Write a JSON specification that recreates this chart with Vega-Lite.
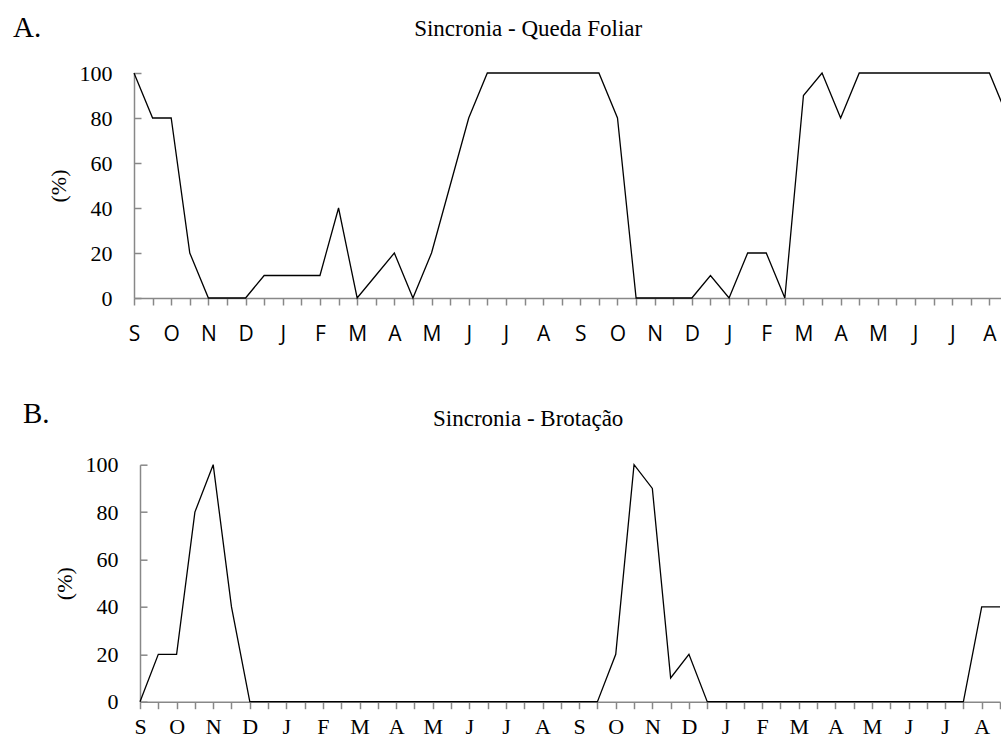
{
  "$schema": "https://vega.github.io/schema/vega-lite/v6.json",
  "padding": {"left": 12, "top": 13, "right": 0, "bottom": 0},
  "background": "white",
  "bounds": "flush",
  "spacing": 166.7,
  "config": {
    "view": {"stroke": null},
    "axis": {
      "grid": false,
      "domainColor": "#888888",
      "tickColor": "#888888",
      "domainWidth": 1.5,
      "tickWidth": 1.5,
      "labelColor": "black",
      "titleColor": "black",
      "labelFont": "Liberation Serif",
      "titleFont": "Liberation Serif",
      "titleFontWeight": "normal"
    }
  },
  "datasets": {
    "queda": [
      {"t": 0, "pct": 100}, {"t": 1, "pct": 80}, {"t": 2, "pct": 80}, {"t": 3, "pct": 20},
      {"t": 4, "pct": 0}, {"t": 5, "pct": 0}, {"t": 6, "pct": 0}, {"t": 7, "pct": 10},
      {"t": 8, "pct": 10}, {"t": 9, "pct": 10}, {"t": 10, "pct": 10}, {"t": 11, "pct": 40},
      {"t": 12, "pct": 0}, {"t": 13, "pct": 10}, {"t": 14, "pct": 20}, {"t": 15, "pct": 0},
      {"t": 16, "pct": 20}, {"t": 17, "pct": 50}, {"t": 18, "pct": 80}, {"t": 19, "pct": 100},
      {"t": 20, "pct": 100}, {"t": 21, "pct": 100}, {"t": 22, "pct": 100}, {"t": 23, "pct": 100},
      {"t": 24, "pct": 100}, {"t": 25, "pct": 100}, {"t": 26, "pct": 80}, {"t": 27, "pct": 0},
      {"t": 28, "pct": 0}, {"t": 29, "pct": 0}, {"t": 30, "pct": 0}, {"t": 31, "pct": 10},
      {"t": 32, "pct": 0}, {"t": 33, "pct": 20}, {"t": 34, "pct": 20}, {"t": 35, "pct": 0},
      {"t": 36, "pct": 90}, {"t": 37, "pct": 100}, {"t": 38, "pct": 80}, {"t": 39, "pct": 100},
      {"t": 40, "pct": 100}, {"t": 41, "pct": 100}, {"t": 42, "pct": 100}, {"t": 43, "pct": 100},
      {"t": 44, "pct": 100}, {"t": 45, "pct": 100}, {"t": 46, "pct": 100}, {"t": 47, "pct": 80}
    ],
    "brotacao": [
      {"t": 0, "pct": 0}, {"t": 1, "pct": 20}, {"t": 2, "pct": 20}, {"t": 3, "pct": 80},
      {"t": 4, "pct": 100}, {"t": 5, "pct": 40}, {"t": 6, "pct": 0}, {"t": 7, "pct": 0},
      {"t": 8, "pct": 0}, {"t": 9, "pct": 0}, {"t": 10, "pct": 0}, {"t": 11, "pct": 0},
      {"t": 12, "pct": 0}, {"t": 13, "pct": 0}, {"t": 14, "pct": 0}, {"t": 15, "pct": 0},
      {"t": 16, "pct": 0}, {"t": 17, "pct": 0}, {"t": 18, "pct": 0}, {"t": 19, "pct": 0},
      {"t": 20, "pct": 0}, {"t": 21, "pct": 0}, {"t": 22, "pct": 0}, {"t": 23, "pct": 0},
      {"t": 24, "pct": 0}, {"t": 25, "pct": 0}, {"t": 26, "pct": 20}, {"t": 27, "pct": 100},
      {"t": 28, "pct": 90}, {"t": 29, "pct": 10}, {"t": 30, "pct": 20}, {"t": 31, "pct": 0},
      {"t": 32, "pct": 0}, {"t": 33, "pct": 0}, {"t": 34, "pct": 0}, {"t": 35, "pct": 0},
      {"t": 36, "pct": 0}, {"t": 37, "pct": 0}, {"t": 38, "pct": 0}, {"t": 39, "pct": 0},
      {"t": 40, "pct": 0}, {"t": 41, "pct": 0}, {"t": 42, "pct": 0}, {"t": 43, "pct": 0},
      {"t": 44, "pct": 0}, {"t": 45, "pct": 0}, {"t": 46, "pct": 40}, {"t": 47, "pct": 40}
    ]
  },
  "vconcat": [
    {
      "width": 874,
      "height": 225,
      "data": {"name": "queda"},
      "layer": [
        {
          "mark": {"type": "line", "color": "black", "strokeWidth": 1.3},
          "encoding": {
            "x": {
              "field": "t", "type": "quantitative",
              "scale": {"domain": [0, 47], "nice": false, "zero": false},
              "axis": {
                "values": [0,1,2,3,4,5,6,7,8,9,10,11,12,13,14,15,16,17,18,19,20,21,22,23,24,25,26,27,28,29,30,31,32,33,34,35,36,37,38,39,40,41,42,43,44,45,46,47],
                "tickSize": 7,
                "labelExpr": "datum.value % 2 == 0 ? ['S','O','N','D','J','F','M','A','M','J','J','A'][(datum.value/2)%12] : ''",
                "labelFont": "Open Sans",
                "labelFontSize": 21,
                "labelBaseline": "alphabetic",
                "labelPadding": 35,
                "labelAlign": "center",
                "labelFlush": false,
                "labelOverlap": false,
                "title": null
              }
            },
            "y": {
              "field": "pct", "type": "quantitative",
              "scale": {"domain": [0, 100], "nice": false},
              "axis": {
                "values": [0, 20, 40, 60, 80, 100],
                "tickSize": -7,
                "labelPadding": 29,
                "labelFontSize": 22,
                "title": "(%)",
                "titleFontSize": 22,
                "titleAngle": -90,
                "titleX": -75.3,
                "titleY": 112.5,
                "titleBaseline": "middle",
                "titleAlign": "center"
              }
            }
          }
        },
        {
          "mark": {"type": "line", "strokeOpacity": 0},
          "encoding": {
            "x": {
              "field": "t", "type": "quantitative",
              "axis": {
                "orient": "top", "domain": false, "ticks": false, "labels": false,
                "title": "Sincronia - Queda Foliar",
                "titleFontSize": 23,
                "titleX": 393.7, "titleY": -37.6,
                "titleBaseline": "alphabetic", "titleAlign": "center"
              }
            },
            "y": {
              "field": "pct", "type": "quantitative",
              "axis": {
                "orient": "left", "domain": false, "ticks": false, "labels": false,
                "title": "A.",
                "titleFontSize": 29,
                "titleAngle": 0,
                "titleX": -121.5, "titleY": -36.6,
                "titleAlign": "left", "titleBaseline": "alphabetic"
              }
            }
          }
        }
      ],
      "resolve": {"axis": {"x": "independent", "y": "independent"}}
    },
    {
      "width": 866,
      "height": 237,
      "data": {"name": "brotacao"},
      "layer": [
        {
          "mark": {"type": "line", "color": "black", "strokeWidth": 1.3},
          "encoding": {
            "x": {
              "field": "t", "type": "quantitative",
              "scale": {"domain": [0, 47], "range": [6, 866], "nice": false, "zero": false},
              "axis": {
                "values": [0,1,2,3,4,5,6,7,8,9,10,11,12,13,14,15,16,17,18,19,20,21,22,23,24,25,26,27,28,29,30,31,32,33,34,35,36,37,38,39,40,41,42,43,44,45,46,47],
                "tickSize": 7,
                "labelExpr": "datum.value % 2 == 0 ? ['S','O','N','D','J','F','M','A','M','J','J','A'][(datum.value/2)%12] : ''",
                "labelFontSize": 22,
                "labelBaseline": "alphabetic",
                "labelPadding": 25,
                "labelAlign": "center",
                "labelFlush": false,
                "labelOverlap": false,
                "title": null
              }
            },
            "y": {
              "field": "pct", "type": "quantitative",
              "scale": {"domain": [0, 100], "nice": false},
              "axis": {
                "offset": -6,
                "values": [0, 20, 40, 60, 80, 100],
                "tickSize": -7,
                "labelPadding": 29,
                "labelFontSize": 22,
                "title": "(%)",
                "titleFontSize": 22,
                "titleAngle": -90,
                "titleX": -75.3,
                "titleY": 118.5,
                "titleBaseline": "middle",
                "titleAlign": "center"
              }
            }
          }
        },
        {
          "mark": {"type": "line", "strokeOpacity": 0},
          "encoding": {
            "x": {
              "field": "t", "type": "quantitative",
              "axis": {
                "orient": "top", "domain": false, "ticks": false, "labels": false,
                "title": "Sincronia - Brotação",
                "titleFontSize": 23,
                "titleX": 393.7, "titleY": -39,
                "titleBaseline": "alphabetic", "titleAlign": "center"
              }
            },
            "y": {
              "field": "pct", "type": "quantitative",
              "axis": {
                "orient": "left", "domain": false, "ticks": false, "labels": false,
                "title": "B.",
                "titleFontSize": 29,
                "titleAngle": 0,
                "titleX": -111.5, "titleY": -42,
                "titleAlign": "left", "titleBaseline": "alphabetic"
              }
            }
          }
        }
      ],
      "resolve": {"axis": {"x": "independent", "y": "independent"}}
    }
  ]
}
